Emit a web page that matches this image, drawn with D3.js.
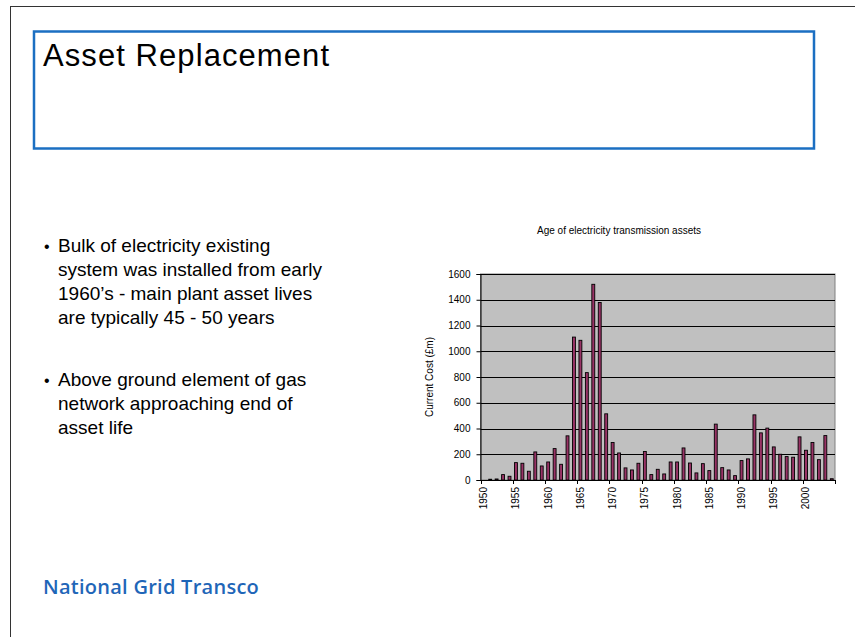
<!DOCTYPE html>
<html><head><meta charset="utf-8">
<script src="https://cdn.jsdelivr.net/npm/d3@7"></script>
<style>
html,body{margin:0;padding:0;background:#fff;}
svg{display:block;font-family:"Liberation Sans",Arial,Helvetica,sans-serif;}
</style></head>
<body>
<svg id="c" width="855" height="637"></svg>
<script>
const years = d3.range(1950, 2005);
const values = [0,6,8,42,29,135,130,68,218,109,140,244,122,343,1110,1085,834,1520,1379,514,
  291,210,94,78,130,221,42,83,47,140,140,249,132,55,127,73,434,96,78,34,
  151,164,506,366,403,257,200,182,177,335,231,291,158,345,10];
const yTicks = d3.range(0, 1601, 200);
const xLabelYears = d3.range(1950, 2001, 5);
const titleText = "Asset Replacement";
const chartTitle = "Age of electricity transmission assets";
const yAxisTitle = "Current Cost (£m)";
const bullets = [
  ["Bulk of electricity existing","system was installed from early","1960\u2019s - main plant asset lives","are typically 45 - 50 years"],
  ["Above ground element of gas","network approaching end of","asset life"]
];
const logoText = "National Grid Transco";

const svg = d3.select("#c");

// slide edges
svg.append("line").attr("x1",10).attr("y1",6.5).attr("x2",855).attr("y2",6.5).attr("stroke","#333").attr("stroke-width",1);
svg.append("line").attr("x1",10.5).attr("y1",6).attr("x2",10.5).attr("y2",637).attr("stroke","#333").attr("stroke-width",1);

// title box
svg.append("rect").attr("x",34).attr("y",31.5).attr("width",780).attr("height",117)
  .attr("fill","none").attr("stroke","#1b6fc2").attr("stroke-width",2.5);
svg.append("text").attr("x",43).attr("y",66).attr("font-size",31).attr("fill","#000")
  .attr("textLength",286).text(titleText);

// bullets
const bulletStart = [252, 386];
bullets.forEach((lines, bi) => {
  svg.append("text").attr("x",44).attr("y",bulletStart[bi]).attr("font-size",16).text("\u2022");
  lines.forEach((t, li) => {
    svg.append("text").attr("x",58).attr("y",bulletStart[bi] + li*24).attr("font-size",19).attr("fill","#000").text(t);
  });
});

// logo
svg.append("text").attr("x",43).attr("y",594).attr("font-size",20).attr("font-weight",600)
  .attr("font-family","'Open Sans', 'Noto Sans', sans-serif")
  .attr("fill","#1f66b8").attr("letter-spacing","-0.8").attr("textLength",215).text(logoText);

// chart
const L = 480.5, R = 835, T = 274, B = 480;
const x = d3.scaleBand().domain(years).range([L, R]).padding(0);
const y = d3.scaleLinear().domain([0, 1600]).range([B, T]);

svg.append("rect").attr("x",L).attr("y",T).attr("width",R-L).attr("height",B-T)
  .attr("fill","#c0c0c0").attr("stroke","#808080").attr("stroke-width",1);

// gridlines
svg.append("g").selectAll("line").data(yTicks.slice(1)).join("line")
  .attr("x1",L).attr("x2",R).attr("y1",d=>Math.round(y(d))+0.5).attr("y2",d=>Math.round(y(d))+0.5)
  .attr("stroke","#000").attr("stroke-width",1);

// bars
const bw = x.bandwidth()*0.45;
svg.append("g").selectAll("rect").data(years).join("rect")
  .attr("x",(d,i)=>x(d)+x.bandwidth()/2-bw/2)
  .attr("y",(d,i)=>y(values[i]))
  .attr("width",bw)
  .attr("height",(d,i)=>B-y(values[i]))
  .attr("fill","#993366").attr("stroke","#000").attr("stroke-width",0.9);

// y axis
const yAxis = d3.axisLeft(y).tickValues(yTicks).tickSize(4).tickPadding(6).tickFormat(d3.format("d"));
const gy = svg.append("g").attr("transform",`translate(${L},0)`).call(yAxis);
gy.select(".domain").attr("stroke","#000");
gy.selectAll("text").attr("font-size",10).attr("fill","#000").attr("font-family","Liberation Sans, Arial, sans-serif");

// x axis
const tickPos = xLabelYears.map(yr => x(yr)).concat([R]);
svg.append("line").attr("x1",L).attr("x2",R).attr("y1",B+0.5).attr("y2",B+0.5).attr("stroke","#000");
svg.append("g").selectAll("line").data(tickPos).join("line")
  .attr("x1",d=>Math.round(d)+0.5).attr("x2",d=>Math.round(d)+0.5).attr("y1",B).attr("y2",B+4)
  .attr("stroke","#000");
svg.append("g").selectAll("text").data(xLabelYears).join("text")
  .attr("transform",d=>`translate(${x(d)+x.bandwidth()/2+3.5},${B+7}) rotate(-90)`)
  .attr("text-anchor","end").attr("font-size",10).attr("fill","#000").text(d=>d);

// titles
svg.append("text").attr("x",619).attr("y",234).attr("text-anchor","middle").attr("font-size",10).text(chartTitle);
svg.append("text").attr("transform","translate(433,377) rotate(-90)").attr("text-anchor","middle")
  .attr("font-size",10).text(yAxisTitle);
</script>
</body></html>
